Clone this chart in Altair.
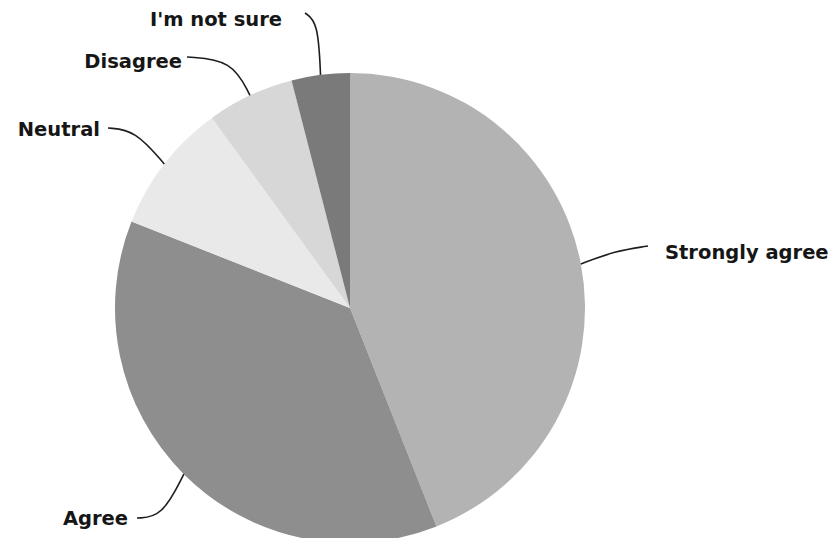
import math
import altair as alt
import pandas as pd

# ---- data ----
categories = ["Strongly agree", "Agree", "Neutral", "Disagree", "I'm not sure"]
values = [44, 37, 9, 6, 4]
colors = ["#b3b3b3", "#8e8e8e", "#e9e9e9", "#d7d7d7", "#7a7a7a"]

# ---- layout (pixels relative to pie centre, y downward) ----
R = 235
W, H = 824, 530
CX, CY = 342, 300
label_pos = {  # text anchor, align
    "Strongly agree": (315, -55, "left"),
    "Agree": (-222, 211, "right"),
    "Neutral": (-250, -178, "right"),
    "Disagree": (-168, -246, "right"),
    "I'm not sure": (-68, -288, "right"),
}
leader_ctrl = {  # control point, end point of each leader line
    "Strongly agree": ((265, -57), (298, -62)),
    "Agree": ((-188, 209), (-213, 210)),
    "Neutral": ((-215, -178), (-242, -180)),
    "Disagree": ((-118, -248), (-163, -251)),
    "I'm not sure": ((-32, -286), (-45, -295)),
}

df = pd.DataFrame({"cat": categories, "value": values, "idx": range(len(values))})

total = sum(values)
rows = []
cum = 0
for c, v in zip(categories, values):
    mid = (cum + v / 2) / total * 2 * math.pi
    cum += v
    ax, ay = R * math.sin(mid), -R * math.cos(mid)
    (cx_, cy_), (ex, ey) = leader_ctrl[c]
    for s, (px, py) in enumerate([(ax, ay), (cx_, cy_), (ex, ey)]):
        rows.append({"cat": c, "step": s, "x": px, "y": py})
lines_df = pd.DataFrame(rows)

lab_df = pd.DataFrame(
    [{"cat": c, "x": p[0], "y": p[1], "align": p[2]} for c, p in label_pos.items()]
)

xs = alt.Scale(domain=[-CX, W - CX], range=[0, W], nice=False, zero=False)
ys = alt.Scale(domain=[-CY, H - CY], range=[0, H], nice=False, zero=False)

pie = (
    alt.Chart(df)
    .mark_arc(radius=R, stroke=None)
    .encode(
        x=alt.XDatum(0, type="quantitative", scale=xs, axis=None),
        y=alt.YDatum(0, type="quantitative", scale=ys, axis=None),
        theta=alt.Theta("value:Q", stack=True),
        order=alt.Order("idx:Q", sort="ascending"),
        color=alt.Color("cat:N", scale=alt.Scale(domain=categories, range=colors), legend=None),
    )
)

leaders = (
    alt.Chart(lines_df)
    .mark_line(interpolate="basis", color="#1e1e1e", strokeWidth=1.6)
    .encode(
        x=alt.X("x:Q", scale=xs, axis=None),
        y=alt.Y("y:Q", scale=ys, axis=None),
        detail="cat:N",
        order="step:Q",
    )
)

text_base = alt.Chart(lab_df).encode(
    x=alt.X("x:Q", scale=xs, axis=None),
    y=alt.Y("y:Q", scale=ys, axis=None),
    text="cat:N",
)
tstyle = dict(font="DejaVu Sans", fontSize=19.5, fontWeight="bold", color="#161616", baseline="middle")
text_left = text_base.transform_filter(alt.datum.align == "left").mark_text(align="left", **tstyle)
text_right = text_base.transform_filter(alt.datum.align == "right").mark_text(align="right", **tstyle)

chart = (
    alt.layer(pie, leaders, text_left, text_right)
    .properties(width=W, height=H, padding=0, autosize=alt.AutoSizeParams(type="none"))
    .configure_view(strokeWidth=0)
)

chart.save("out.html", embed_options={"renderer": "svg", "actions": False})
